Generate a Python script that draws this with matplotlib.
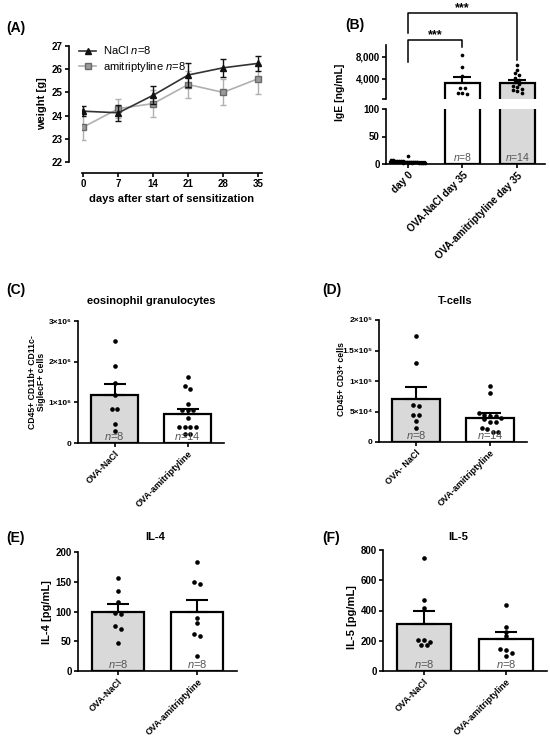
import numpy as np
import matplotlib
matplotlib.use('Agg')
import matplotlib.pyplot as plt
import matplotlib.transforms as mtransforms

plt.rcParams['font.family'] = ['Liberation Sans', 'DejaVu Sans']
plt.rcParams['mathtext.fontset'] = 'custom'
plt.rcParams['mathtext.it'] = 'Liberation Sans:italic'
plt.rcParams['mathtext.rm'] = 'Liberation Sans'
plt.rcParams['mathtext.bf'] = 'Liberation Sans:bold'

# ---------------- data ----------------
# (A) body weight
days = [0, 7, 14, 21, 28, 35]
weight_nacl = [24.19, 24.12, 24.88, 25.75, 26.06, 26.25]
weight_nacl_err = [0.22, 0.35, 0.40, 0.50, 0.38, 0.33]
weight_ami = [23.51, 24.30, 24.52, 25.34, 25.00, 25.59]
weight_ami_err = [0.55, 0.42, 0.57, 0.60, 0.56, 0.64]

# (B) IgE
ige_groups = ['day 0', 'OVA-NaCl day 35', 'OVA-amitriptyline day 35']
ige_means = [4.5, 3250, 3300]
ige_sem = [0.7, 1150, 480]
ige_n = ['', '$n$=8', '$n$=14']
ige_day0 = [15, 8, 7, 6, 6, 5, 5, 5, 4, 4, 4, 3, 3, 3, 3, 2, 2, 2, 2, 1, 1, 1]
ige_nacl = [8400, 6200, 4500, 2300, 2300, 1500, 1300, 1500]
ige_ami = [6500, 5700, 5000, 4700, 4200, 3800, 3500, 3000, 2800, 2500, 2200, 2000, 1800, 1500]

# (C) eosinophils
eos_groups = ['OVA-NaCl', 'OVA-amitriptyline']
eos_means = [1.18e6, 0.72e6]
eos_sem = [0.27e6, 0.12e6]
eos_n = ['$n$=8', '$n$=14']
eos_nacl = [2.52e6, 1.885e6, 1.48e6, 1.17e6, 0.84e6, 0.84e6, 0.475e6, 0.295e6]
eos_ami = [1.62e6, 1.39e6, 1.33e6, 0.97e6, 0.82e6, 0.82e6, 0.82e6, 0.62e6,
           0.39e6, 0.39e6, 0.39e6, 0.39e6, 0.23e6, 0.23e6]

# (D) T cells
tc_groups = ['OVA- NaCl', 'OVA-amitriptyline']
tc_means = [70.5e3, 40.0e3]
tc_sem = [19.5e3, 7e3]
tc_n = ['$n$=8', '$n$=14']
tc_nacl = [174e3, 129e3, 61e3, 59e3, 44e3, 44e3, 34e3, 23e3]
tc_ami = [91e3, 80e3, 47e3, 45e3, 42e3, 42e3, 40e3, 38e3, 32e3, 32e3, 23e3, 22e3, 17e3, 16e3]

# (E) IL-4
il4_groups = ['OVA-NaCl', 'OVA-amitriptyline']
il4_means = [99, 99]
il4_sem = [13, 20]
il4_n = ['$n$=8', '$n$=8']
il4_nacl = [156, 135, 116, 98, 96, 75, 71, 47]
il4_ami = [184, 149, 147, 89, 81, 62, 59, 25]

# (F) IL-5
il5_groups = ['OVA-NaCl', 'OVA-amitriptyline']
il5_means = [314, 210]
il5_sem = [82, 49]
il5_n = ['$n$=8', '$n$=8']
il5_nacl = [745, 468, 418, 205, 205, 192, 170, 170]
il5_ami = [437, 292, 260, 230, 144, 137, 119, 100]

GRAY = '#d9d9d9'
NGRAY = '#555555'

# ---------------- layout helpers ----------------
W, H = 550, 743
fig = plt.figure(figsize=(5.5, 7.43), dpi=100)


def add_ax(x0, y0, x1, y1):
    return fig.add_axes([x0 / W, 1 - y1 / H, (x1 - x0) / W, (y1 - y0) / H])


def ftext(x, y, s, **kw):
    return fig.text(x / W, 1 - y / H, s, **kw)


def clean(ax, lw=1.2):
    for s in ['top', 'right']:
        ax.spines[s].set_visible(False)
    for s in ['left', 'bottom']:
        ax.spines[s].set_linewidth(lw)
    ax.tick_params(width=lw, length=3, pad=1.5)


def swarm_x(ax, xc, vals, dpx, maxw):
    vals = np.asarray(vals, float)
    disp = ax.transData.transform(np.column_stack([np.full(len(vals), xc), vals]))
    ypx = disp[:, 1]
    pxx = ax.transData.transform([(1, 0)])[0][0] - ax.transData.transform([(0, 0)])[0][0]
    order = np.argsort(-ypx)
    clusters = []
    for i in order:
        if clusters and ypx[clusters[-1][0]] - ypx[i] < dpx:
            clusters[-1].append(i)
        else:
            clusters.append([i])
    xs = np.full(len(vals), float(xc))
    for c in clusters:
        k = len(c)
        step = dpx * 1.3 if k == 1 else min(dpx * 1.3, maxw / (k - 1))
        for j, i in enumerate(c):
            xs[i] = xc + (j - (k - 1) / 2) * step / pxx
    return xs


# ---------------- (A) ----------------
axA = add_ax(82, 46, 262, 162)
clean(axA)
eA1 = axA.errorbar(days, weight_nacl, yerr=weight_nacl_err, color='#333333', ecolor='#111111',
                   marker='^', ms=4, mfc='#111111', mec='#111111', lw=1.2, elinewidth=1,
                   capsize=2.5, capthick=1, zorder=3)
eA2 = axA.errorbar(days, weight_ami, yerr=weight_ami_err, color='#b0b0b0', ecolor='#b0b0b0',
                   marker='s', ms=4, mfc='#9a9a9a', mec='#6a6a6a', lw=1.2, elinewidth=1,
                   capsize=2.5, capthick=1, zorder=2)
axA.set_xlim(-0.3, 35.8)
axA.set_ylim(22, 27)
axA.spines['left'].set_position(('outward', 9.4))
axA.spines['bottom'].set_position(('outward', 8))
axA.set_xticks(days)
axA.set_xticklabels([str(d) for d in days], fontsize=7, fontweight='bold')
axA.set_yticks(range(22, 28))
axA.set_yticklabels([str(v) for v in range(22, 28)], fontsize=7, fontweight='bold')
axA.set_xlabel('days after start of sensitization', fontsize=8, fontweight='bold', labelpad=3)
axA.set_ylabel('weight [g]', fontsize=8, fontweight='bold', labelpad=3)
axA.legend([eA1[0], eA2[0]], ['NaCl $n$=8', 'amitriptyline $n$=8'], loc='upper left',
           bbox_to_anchor=(-0.07, 1.1), frameon=False, fontsize=8, handlelength=1.5,
           handletextpad=0.6, labelspacing=0.3)
ftext(6, 28, '(A)', fontsize=10, fontweight='bold', va='center')

# ---------------- (B) ----------------
axBu = add_ax(386, 45, 545, 99)
axBl = add_ax(386, 109, 545, 164)
xB = np.arange(len(ige_groups))
colB = ['white', 'white', GRAY]
for ax in (axBu, axBl):
    clean(ax)
    ax.bar(xB, ige_means, width=0.64, color=colB, edgecolor='black', linewidth=1.6, zorder=1)
    ax.set_xlim(-0.4, 2.51)
axBu.spines['bottom'].set_visible(False)
axBu.set_ylim(364, 10180)
axBl.set_ylim(0, 100)
axBu.errorbar(xB[1:], ige_means[1:], yerr=[[0, 0], ige_sem[1:]], fmt='none', ecolor='black',
              elinewidth=1.5, capsize=6.5, capthick=1.5, zorder=2)
axBu.set_xticks([])
axBu.set_yticks([364, 4000, 8000])
axBu.set_yticklabels(['', '4,000', '8,000'], fontsize=7, fontweight='bold')
axBu.tick_params(axis='y', which='major', length=3)
axBl.set_yticks([0, 50, 100])
axBl.set_yticklabels(['0', '50', '100'], fontsize=7, fontweight='bold')
axBl.set_xticks(xB)
axBl.set_xticklabels(ige_groups, rotation=45, ha='right', rotation_mode='anchor',
                     fontsize=7.2, fontweight='bold')
for xi, vals in ((1, ige_nacl), (2, ige_ami)):
    axBu.scatter(swarm_x(axBu, xi, vals, 3.5, 24), vals, s=7, color='black', zorder=3,
                 linewidths=0, clip_on=False)
axBl.scatter(swarm_x(axBl, 0, ige_day0, 3.5, 34), ige_day0, s=7, color='black', zorder=3,
             linewidths=0, clip_on=False)
for xi, lab in zip(xB, ige_n):
    axBl.text(xi, 0.02, lab, transform=mtransforms.blended_transform_factory(axBl.transData, axBl.transAxes),
              ha='center', va='bottom', fontsize=7.5, color=NGRAY)
ftext(340, 92, 'IgE [ng/mL]', rotation=90, ha='center', va='center', fontsize=7.5, fontweight='bold')
# significance brackets
btr = mtransforms.blended_transform_factory(axBu.transData, fig.transFigure)
fy = lambda p: 1 - p / H
axBu.plot([0, 0, 2, 2], [fy(33), fy(13), fy(13), fy(60)], color='black', lw=1.1,
          transform=btr, clip_on=False)
axBu.plot([0, 0, 1, 1], [fy(62), fy(40), fy(40), fy(47)], color='black', lw=1.1,
          transform=btr, clip_on=False)
axBu.text(1, fy(8), '***', transform=btr, ha='center', va='center', fontsize=9, fontweight='bold')
axBu.text(0.5, fy(35), '***', transform=btr, ha='center', va='center', fontsize=9, fontweight='bold')
ftext(345, 25, '(B)', fontsize=10, fontweight='bold', va='center')


# ---------------- bar panels ----------------
def bar_panel(box, groups, means, sems, pts, ns, ylim, yticks, yticklabels, cap, tick_fs,
              title, title_xy, ylab, ylab_xy, ylab_fs, label, label_xy):
    ax = add_ax(*box)
    clean(ax)
    x = np.arange(len(groups))
    ax.bar(x, means, width=0.65, color=[GRAY, 'white'], edgecolor='black', linewidth=1.6, zorder=1)
    ax.errorbar(x, means, yerr=[[0] * len(x), sems], fmt='none', ecolor='black', elinewidth=1.5,
                capsize=cap, capthick=1.5, zorder=2)
    ax.set_xlim(-0.5, 1.5)
    ax.set_ylim(*ylim)
    ax.set_yticks(yticks)
    ax.set_yticklabels(yticklabels, fontsize=tick_fs, fontweight='bold')
    ax.set_xticks(x)
    ax.set_xticklabels(groups, rotation=45, ha='right', rotation_mode='anchor',
                       fontsize=6.5, fontweight='bold')
    for xi, vals in zip(x, pts):
        ax.scatter(swarm_x(ax, xi, vals, 4.3, 36), vals, s=11, color='black', zorder=3,
                   linewidths=0, clip_on=False)
    tr = mtransforms.blended_transform_factory(ax.transData, ax.transAxes)
    for xi, lab in zip(x, ns):
        ax.text(xi, 0.01, lab, transform=tr, ha='center', va='bottom', fontsize=8, color=NGRAY,
                zorder=4)
    ftext(title_xy[0], title_xy[1], title, ha='center', va='center', fontsize=8, fontweight='bold')
    ftext(ylab_xy[0], ylab_xy[1], ylab, rotation=90, ha='center', va='center', fontsize=ylab_fs,
          fontweight='bold', linespacing=1.1)
    ftext(label_xy[0], label_xy[1], label, fontsize=10, fontweight='bold', va='center')
    return ax


bar_panel((78, 321, 224, 443), eos_groups, eos_means, eos_sem, [eos_nacl, eos_ami], eos_n,
          (0, 3e6), [0, 1e6, 2e6, 3e6], ['0', '1×10⁶', '2×10⁶', '3×10⁶'], 8, 6,
          'eosinophil granulocytes', (151, 301),
          'CD45+ CD11b+ CD11c-\nSiglecF+ cells', (37, 382), 6.2, '(C)', (6, 290))

bar_panel((379, 320, 527, 442), tc_groups, tc_means, tc_sem, [tc_nacl, tc_ami], tc_n,
          (0, 2e5), [0, 5e4, 1e5, 1.5e5, 2e5], ['0', '5×10⁴', '1×10⁵', '1.5×10⁵', '2×10⁵'], 8, 6,
          'T-cells', (455, 301),
          'CD45+ CD3+ cells', (341, 379), 6.2, '(D)', (322, 290))

bar_panel((78, 552, 237, 671), il4_groups, il4_means, il4_sem, [il4_nacl, il4_ami], il4_n,
          (0, 200), [0, 50, 100, 150, 200], ['0', '50', '100', '150', '200'], 8, 7,
          'IL-4', (155, 537),
          'IL-4 [pg/mL]', (47, 612), 8, '(E)', (6, 538))

bar_panel((383, 550, 547, 671), il5_groups, il5_means, il5_sem, [il5_nacl, il5_ami], il5_n,
          (0, 800), [0, 200, 400, 600, 800], ['0', '200', '400', '600', '800'], 8, 7,
          'IL-5', (458, 537),
          'IL-5 [pg/mL]', (352, 617), 8, '(F)', (322, 538))

fig.savefig('out.png', dpi=100, facecolor='white')
